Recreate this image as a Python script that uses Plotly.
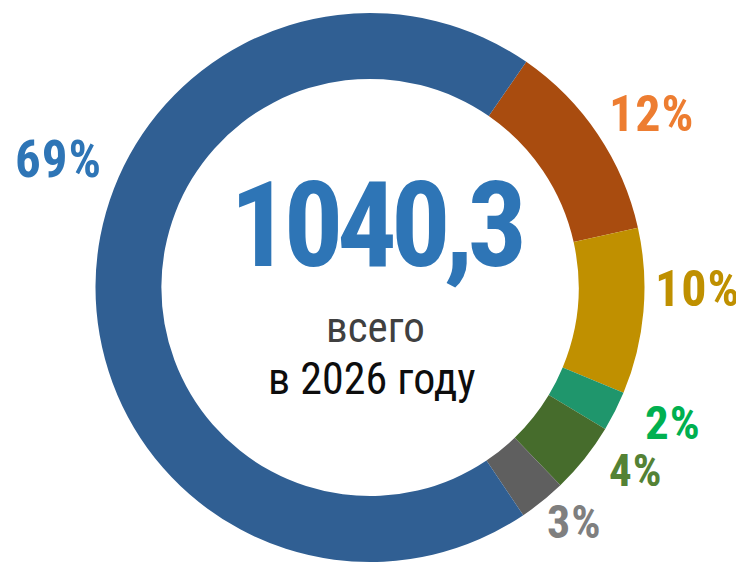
import plotly.graph_objects as go

W, H = 744, 562
OFF = 8      # page body margin shifts the figure by this much
TOP = 13 - OFF
BOTTOM = OFF

# data: 2026 breakdown, total 1040,3
segments = ["A", "B", "C", "D", "E", "F"]
values = [123.5, 101.5, 24.5, 43.5, 28.8, 718.5]
slice_colors = ["#A94C0F", "#C09000", "#1F966C", "#466C2C", "#5F5F5F", "#305F93"]
label_colors = ["#ED7D31", "#BF9000", "#00B050", "#548235", "#7F7F7F", "#2E75B6"]

total = sum(values)

# label placement (pixel centres in the final picture), font sizes, spacing
label_xy = [(651, 114), (697, 289), (673, 422), (635, 470), (574, 522), (59, 160)]
label_size = [50, 50, 47, 45, 46, 51]
label_spacing = [1, 1, 1, 1, 1, 1]


def px(x, y):
    return (x - OFF) / W, (H - BOTTOM - (y - OFF)) / (H - TOP - BOTTOM)


fig = go.Figure(go.Pie(
    labels=segments,
    values=values,
    hole=0.76,
    sort=False,
    direction="clockwise",
    rotation=34.7,
    textinfo="none",
    hoverinfo="skip",
    marker=dict(colors=slice_colors, line=dict(width=0)),
    domain=dict(x=[(95 - OFF) / W, (645 - OFF) / W], y=[0, 1]),
))

font_narrow = "Roboto Condensed, Liberation Sans, Arial, sans-serif"

annotations = []
for v, c, (x, y), s, ls in zip(values, label_colors, label_xy, label_size, label_spacing):
    ax, ay = px(x, y)
    annotations.append(dict(
        x=ax, y=ay, xref="paper", yref="paper", showarrow=False,
        text='<span style="letter-spacing:%dpx"><b>%d%%</b></span>' % (ls, round(v / total * 100)),
        font=dict(family=font_narrow, size=s, color=c),
        xanchor="center", yanchor="middle",
    ))

cx, cy = px(375, 226)
annotations.append(dict(
    x=cx, y=cy, xref="paper", yref="paper", showarrow=False,
    text='<span style="letter-spacing:-6px"><b>%s</b></span>' % f"{total:.1f}".replace(".", ","),
    font=dict(family=font_narrow, size=118, color="#2E75B6"),
    xanchor="center", yanchor="middle",
))
sx, sy = px(375, 327)
annotations.append(dict(
    x=sx, y=sy, xref="paper", yref="paper", showarrow=False,
    text="всего",
    font=dict(family=font_narrow, size=43, color="#404040"),
    xanchor="center", yanchor="middle",
))
yx, yy = px(372, 379)
annotations.append(dict(
    x=yx, y=yy, xref="paper", yref="paper", showarrow=False,
    text="в 2026 году",
    font=dict(family=font_narrow, size=44, color="#0D0D0D"),
    xanchor="center", yanchor="middle",
))

fig.update_layout(
    width=W, height=H,
    margin=dict(l=0, r=0, t=TOP, b=BOTTOM),
    showlegend=False,
    paper_bgcolor="white",
    plot_bgcolor="white",
    annotations=annotations,
)

fig.write_html("out.html")
